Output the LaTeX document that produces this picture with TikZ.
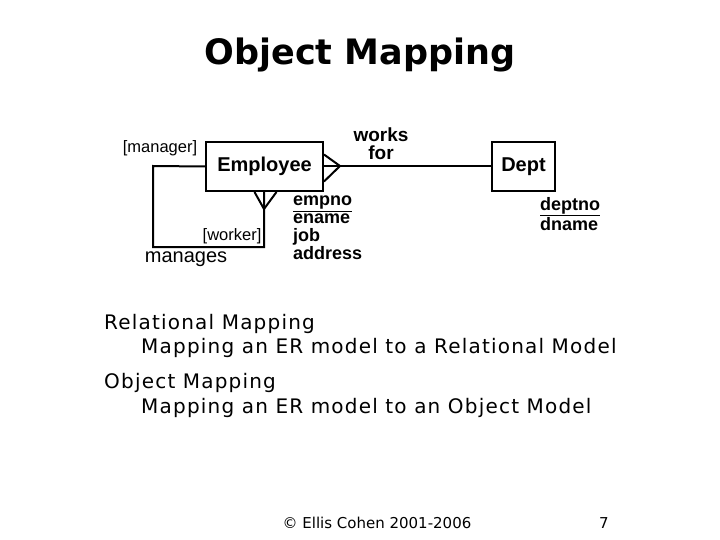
\documentclass[tikz,border=0pt]{standalone}
\usepackage{fontspec}
\setmainfont{DejaVu Sans}
\newfontfamily\arial{Liberation Sans}
\newcommand{\ul}[1]{\underline{#1}}
\begin{document}
\begin{tikzpicture}[x=1pt,y=-1pt,
  ln/.style={line width=2pt},
  ent/.style={draw,line width=2pt,inner sep=0pt,font=\arial\bfseries\fontsize{20}{20}\selectfont},
  lab/.style={inner sep=0pt,font=\arial\fontsize{16.5}{16}\selectfont},
  att/.style={inner sep=0pt,align=left,font=\arial\bfseries\fontsize{18}{18}\selectfont},
  body/.style={inner sep=0pt,anchor=base west,font=\fontsize{20}{20}\selectfont\addfontfeature{LetterSpace=6}}]
\useasboundingbox (0,0) rectangle (720,540);
\node[inner sep=0pt,font=\bfseries\fontsize{35}{35}\selectfont] (title) at (360,55) {Object Mapping};
\node[ent,minimum width=117pt,minimum height=49pt] (emp) at (264.5,166.5) {Employee};
\node[ent,minimum width=63pt,minimum height=49pt] (dept) at (523.5,166.5) {Dept};
\coordinate (tipr) at (340,166);
\coordinate (tipb) at (264,209);
\draw[ln] (emp.east) -- (dept.west);
\draw[ln] ([yshift=-15pt]emp.east) -- (tipr) -- ([yshift=12pt]emp.east);
\draw[ln] ([xshift=-10pt]emp.south) -- (tipb) -- ([xshift=12pt]emp.south);
\coordinate (c1) at (264,247);
\coordinate (c2) at (153,247);
\coordinate (c3) at (153,166);
\draw[ln] (264,191) -- (c1) -- (c2) -- (c3) -- (emp.west);
\node[lab] (mgr) at (160,148) {[manager]};
\node[lab] (wkr) at (232,236) {[worker]};
\node[inner sep=0pt,font=\arial\fontsize{20}{20}\selectfont] (mgs) at (186,259) {manages};
\node[inner sep=0pt,align=center,font=\arial\bfseries\fontsize{19}{18}\selectfont] (wf) at (381,144) {works\\for};
\node[att,anchor=north west] (ea) at (293,196) {\ul{empno}\\ename\\job\\address};
\node[att,anchor=north west] (da) at (540,197) {\ul{deptno}\\dname};
\node[body] (r1) at (104,329) {Relational Mapping};
\node[body] (r2) at (141,353) {Mapping an ER model to a Relational Model};
\node[body] (o1) at (104,388) {Object Mapping};
\node[body] (o2) at (141,413) {Mapping an ER model to an Object Model};
\node[inner sep=0pt,font=\fontsize{15}{15}\selectfont] (ft) at (377,523) {© Ellis Cohen 2001-2006};
\node[inner sep=0pt,font=\fontsize{15}{15}\selectfont] (pg) at (604,523) {7};
\end{tikzpicture}
\end{document}
